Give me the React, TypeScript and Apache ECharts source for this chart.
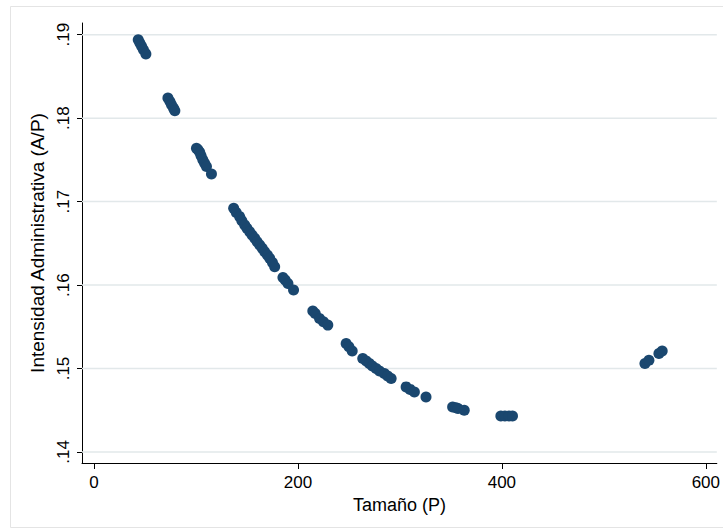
import React, { useEffect, useRef } from "react";
import * as echarts from "echarts";

const sizeP: number[] = [
  43.4, 45.0, 46.7, 48.5, 50.9,
  72.5, 74.5, 76.0, 78.0, 79.3,
  100.5, 102.0, 103.7, 105.0, 106.7, 108.5, 110.3, 115.2,
  137.0, 139.5, 142.9, 145.0, 147.8, 150.0, 152.7, 155.0, 157.6, 160.0,
  162.5, 165.0, 167.4, 170.0, 172.3, 175.0, 177.2,
  185.3, 187.5, 190.2, 195.7,
  214.6, 217.0, 221.2, 225.0, 229.3,
  247.3, 250.0, 253.2,
  263.6, 267.0, 270.1, 273.0, 276.7, 280.0, 284.8, 288.0, 291.4,
  306.1, 310.0, 314.2, 325.6,
  351.7, 355.0, 357.0, 363.1,
  399.0, 403.0, 407.0, 410.4,
  540.3, 544.2, 554.0, 557.2,
];

const intensity: number[] = [
  0.1894, 0.1890, 0.1886, 0.1882, 0.1877,
  0.1824, 0.1820, 0.1816, 0.1812, 0.1809,
  0.1764, 0.1762, 0.1759, 0.1755, 0.1750, 0.1746, 0.1742, 0.1733,
  0.1692, 0.1687, 0.1682, 0.1677, 0.1672, 0.1668, 0.1664, 0.1660, 0.1656, 0.1652,
  0.1648, 0.1644, 0.1640, 0.1636, 0.1632, 0.1627, 0.1622,
  0.1609, 0.1606, 0.1602, 0.1594,
  0.1569, 0.1566, 0.1560, 0.1556, 0.1552,
  0.1530, 0.1526, 0.1521,
  0.1512, 0.1509, 0.1506, 0.1503, 0.1500, 0.1497, 0.1494, 0.1491, 0.1488,
  0.1478, 0.1475, 0.1472, 0.1466,
  0.1454, 0.1453, 0.1452, 0.1450,
  0.1443, 0.1443, 0.1443, 0.1443,
  0.1506, 0.1510, 0.1518, 0.1521,
];

const xTicks: number[] = [0, 200, 400, 600];
const yTicks: number[] = [0.14, 0.15, 0.16, 0.17, 0.18, 0.19];

const xTitle = "Tamaño (P)";
const yTitle = "Intensidad Administrativa (A/P)";

const FONT = "'Liberation Sans', Arial, Helvetica, sans-serif";

const X_MIN = -11.75;
const X_MAX = 610.8;

export default function App() {
  const ref = useRef<HTMLDivElement>(null);

  useEffect(() => {
    if (!ref.current) return;
    const chart = echarts.init(ref.current, undefined, { renderer: "svg" });
    const points = sizeP.map((x, i) => [x, intensity[i]]);
    const gridSeries = yTicks.map((v) => ({
      type: "line",
      data: [
        [X_MIN, v],
        [X_MAX, v],
      ],
      symbol: "none",
      showSymbol: false,
      silent: true,
      z: 1,
      lineStyle: { color: "#e2e8ea", width: 1.5 },
      emphasis: { disabled: true },
    }));
    chart.setOption({
      animation: false,
      backgroundColor: "#ffffff",
      textStyle: { fontFamily: FONT },
      graphic: [
        {
          type: "rect",
          shape: { x: 10.5, y: 6.5, width: 730, height: 521 },
          style: { fill: "none", stroke: "#e4e4e4", lineWidth: 1 },
          silent: true,
          z: -10,
        },
      ],
      grid: { left: 82, right: 5, top: 23, bottom: 68, containLabel: false },
      xAxis: {
        type: "value",
        min: X_MIN,
        max: X_MAX,
        name: xTitle,
        nameLocation: "middle",
        nameGap: 31,
        nameTextStyle: { color: "#000", fontSize: 18, fontFamily: FONT },
        axisLine: { show: true, onZero: false, lineStyle: { color: "#000", width: 1 } },
        axisTick: { show: true, length: 6, customValues: xTicks, lineStyle: { color: "#000" } },
        axisLabel: {
          customValues: xTicks,
          color: "#000",
          fontSize: 17,
          fontFamily: FONT,
          margin: 11,
          formatter: (v: number) => String(v),
        },
        splitLine: { show: false },
      },
      yAxis: {
        type: "value",
        min: 0.13868,
        max: 0.1914,
        name: yTitle,
        nameLocation: "middle",
        nameGap: 29,
        nameRotate: 90,
        nameTextStyle: { color: "#000", fontSize: 19, fontFamily: FONT },
        axisLine: { show: true, onZero: false, lineStyle: { color: "#000", width: 1 } },
        axisTick: { show: true, length: 5, customValues: yTicks, lineStyle: { color: "#000" } },
        axisLabel: {
          customValues: yTicks,
          rotate: 90,
          color: "#000",
          fontSize: 17,
          fontFamily: FONT,
          margin: 10,
          formatter: (v: number) => v.toFixed(2).replace(/^0/, ""),
        },
        splitLine: { show: false },
      },
      series: [
        ...gridSeries,
        {
          type: "scatter",
          data: points,
          z: 5,
          symbol: "circle",
          symbolSize: 11,
          itemStyle: { color: "#1a476f", opacity: 1 },
        },
      ],
    });
    return () => chart.dispose();
  }, []);

  return (
    <div
      ref={ref}
      style={{ position: "fixed", left: 0, top: 0, width: 723, height: 531 }}
    />
  );
}
